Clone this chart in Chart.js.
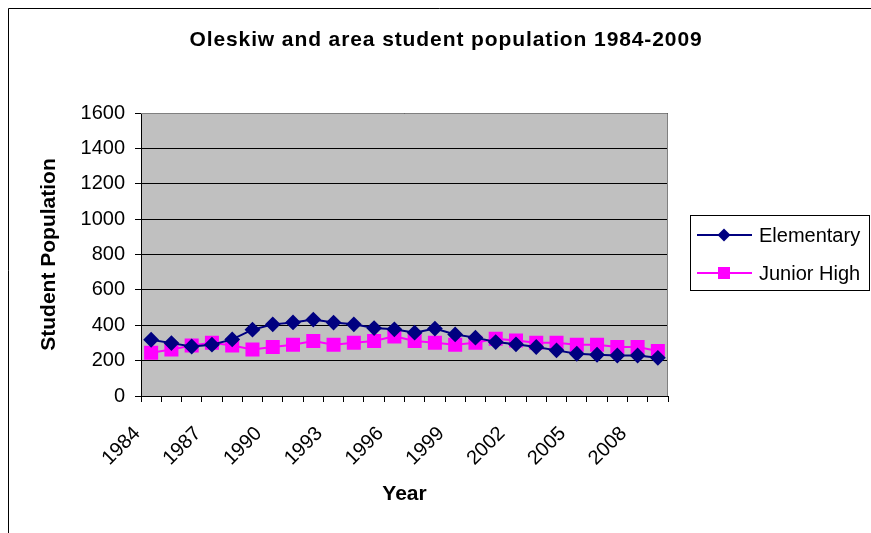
<!DOCTYPE html>
<html>
<head>
<meta charset="utf-8">
<script src="https://cdn.jsdelivr.net/npm/chart.js@4/dist/chart.umd.min.js"></script>
<style>
  body { margin: 0; background: #fff; }
  canvas { display: block; }
</style>
</head>
<body>
<canvas id="popChart" width="871" height="533"></canvas>
<script>
const chartTitle = 'Oleskiw and area student population 1984-2009';
const years = ['1984','1985','1986','1987','1988','1989','1990','1991','1992','1993','1994','1995','1996',
               '1997','1998','1999','2000','2001','2002','2003','2004','2005','2006','2007','2008','2009'];
const elementary = [318, 299, 280, 290, 320, 375, 405, 416, 432, 415, 405, 384, 377,
                    358, 381, 348, 330, 305, 292, 277, 258, 239, 233, 229, 229, 216];
const juniorHigh = [245, 263, 286, 301, 286, 263, 277, 290, 311, 290, 301, 311, 337,
                    311, 301, 290, 301, 324, 314, 301, 301, 290, 290, 277, 277, 254];
const yTicks = [0, 200, 400, 600, 800, 1000, 1200, 1400, 1600];

const FONT = "'Liberation Sans', Arial, sans-serif";

// plot background, frame, outer border, title and legend box
const decor = {
  id: 'decor',
  beforeDraw(chart) {
    const { ctx, chartArea: a } = chart;
    ctx.save();
    ctx.fillStyle = '#c0c0c0';
    ctx.fillRect(a.left, a.top, a.right - a.left, a.bottom - a.top);
    ctx.restore();
  },
  afterDraw(chart) {
    const { ctx, chartArea: a } = chart;
    ctx.save();
    // outer chart border (left + top visible)
    ctx.strokeStyle = '#000';
    ctx.lineWidth = 1;
    ctx.beginPath();
    ctx.moveTo(8.5, 533);
    ctx.lineTo(8.5, 8.5);
    ctx.lineTo(871, 8.5);
    ctx.stroke();
    // plot frame top/right in grey
    ctx.strokeStyle = '#808080';
    ctx.beginPath();
    ctx.moveTo(a.left, a.top + 0.5);
    ctx.lineTo(a.right - 0.5, a.top + 0.5);
    ctx.lineTo(a.right - 0.5, a.bottom);
    ctx.stroke();

    // title
    ctx.fillStyle = '#000';
    ctx.font = 'bold 21px ' + FONT;
    ctx.letterSpacing = '0.9px';
    ctx.textAlign = 'center';
    ctx.textBaseline = 'middle';
    ctx.fillText(chartTitle, 446, 40);
    ctx.letterSpacing = '0px';

    // legend
    const bx = 690.5, by = 215.5, bw = 179, bh = 75;
    ctx.strokeStyle = '#000';
    ctx.strokeRect(bx, by, bw, bh);
    ctx.font = '20px ' + FONT;
    ctx.textAlign = 'left';
    chart.data.datasets.forEach((ds, i) => {
      const y = 235 + i * 38;
      ctx.strokeStyle = ds.borderColor;
      ctx.lineWidth = 2;
      ctx.beginPath();
      ctx.moveTo(697, y);
      ctx.lineTo(752, y);
      ctx.stroke();
      ctx.fillStyle = ds.pointBackgroundColor;
      const cx = 724;
      ctx.beginPath();
      if (ds.pointStyle === 'rectRot') {
        const r = ds.pointRadius;
        ctx.moveTo(cx - r, y); ctx.lineTo(cx, y - r);
        ctx.lineTo(cx + r, y); ctx.lineTo(cx, y + r);
        ctx.closePath();
      } else {
        const s = ds.pointRadius * Math.SQRT1_2;
        ctx.rect(cx - s, y - s, 2 * s, 2 * s);
      }
      ctx.fill();
      ctx.fillStyle = '#000';
      ctx.fillText(ds.label, 759, y + 1);
    });
    ctx.restore();
  }
};

new Chart(document.getElementById('popChart'), {
  type: 'line',
  data: {
    labels: years,
    datasets: [
      {
        label: 'Elementary',
        data: elementary,
        borderColor: '#000080',
        backgroundColor: '#000080',
        pointBackgroundColor: '#000080',
        pointBorderColor: '#000080',
        pointStyle: 'rectRot',
        pointRadius: 6.5,
        borderWidth: 2,
        tension: 0
      },
      {
        label: 'Junior High',
        data: juniorHigh,
        borderColor: '#ff00ff',
        backgroundColor: '#ff00ff',
        pointBackgroundColor: '#ff00ff',
        pointBorderColor: '#ff00ff',
        pointStyle: 'rect',
        pointRadius: 8.5,
        borderWidth: 2,
        tension: 0
      }
    ]
  },
  options: {
    responsive: false,
    animation: false,
    layout: { padding: { top: 113, right: 203, bottom: 0, left: 0 } },
    plugins: {
      legend: { display: false },
      title: { display: false },
      tooltip: { enabled: false }
    },
    scales: {
      x: {
        offset: true,
        afterFit(scale) { scale.height = 137; },
        grid: { offset: true, drawOnChartArea: false, color: '#000', tickLength: 6 },
        border: { color: '#000', width: 1 },
        ticks: {
          autoSkip: false,
          maxRotation: 45,
          minRotation: 45,
          padding: 20,
          labelOffset: -14,
          color: '#000',
          font: { family: FONT, size: 20 },
          callback(val, i) { return i % 3 === 0 ? years[i] : ''; }
        },
        title: {
          display: true,
          text: 'Year',
          color: '#000',
          font: { family: FONT, size: 21, weight: 'bold' },
          padding: { top: 0, bottom: 26 }
        }
      },
      y: {
        min: 0,
        max: 1600,
        afterFit(scale) { scale.width = 141; },
        afterBuildTicks(scale) { scale.ticks = yTicks.map(v => ({ value: v })); },
        grid: { color: '#000', tickLength: 6 },
        border: { color: '#000', width: 1 },
        ticks: {
          color: '#000',
          padding: 10,
          font: { family: FONT, size: 20 },
          callback(v) { return String(v); }
        },
        title: {
          display: true,
          text: 'Student Population',
          color: '#000',
          font: { family: FONT, size: 21, weight: 'bold' },
          padding: { top: 37, bottom: 0 }
        }
      }
    }
  },
  plugins: [decor]
});
</script>
</body>
</html>
